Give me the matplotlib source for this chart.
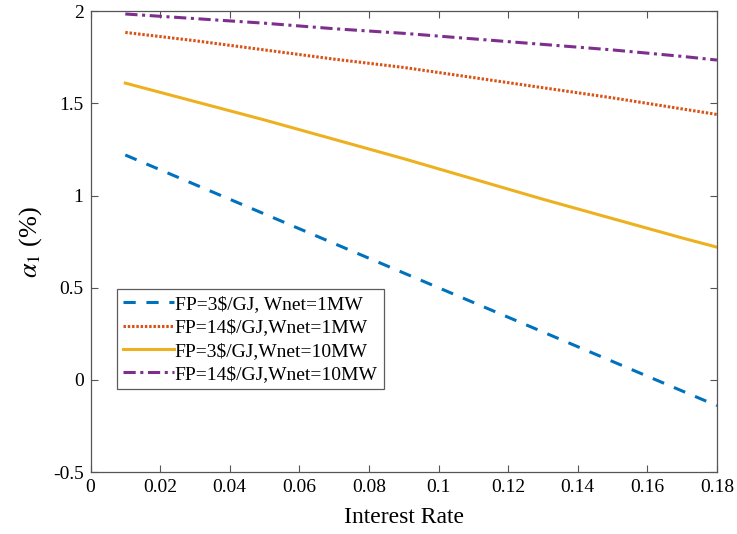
import matplotlib
matplotlib.use("Agg")
import matplotlib.pyplot as plt

plt.rcParams['font.family'] = ['Liberation Serif', 'DejaVu Serif']
plt.rcParams['mathtext.fontset'] = 'stix'

# Data
rate = [0.01, 0.03, 0.05, 0.07, 0.09, 0.11, 0.13, 0.15, 0.17, 0.18]
fp3_1mw = [1.22, 1.06, 0.90, 0.74, 0.58, 0.42, 0.26, 0.10, -0.06, -0.14]
fp14_1mw = [1.885, 1.84, 1.79, 1.74, 1.695, 1.64, 1.585, 1.53, 1.47, 1.44]
fp3_10mw = [1.61, 1.51, 1.41, 1.305, 1.20, 1.09, 0.98, 0.875, 0.77, 0.72]
fp14_10mw = [1.985, 1.96, 1.935, 1.905, 1.88, 1.85, 1.82, 1.79, 1.755, 1.735]

labels = ["FP=3$/GJ, Wnet=1MW", "FP=14$/GJ,Wnet=1MW",
          "FP=3$/GJ,Wnet=10MW", "FP=14$/GJ,Wnet=10MW"]
labels = [s.replace("$", r"\$") for s in labels]

xticks = [0, 0.02, 0.04, 0.06, 0.08, 0.1, 0.12, 0.14, 0.16, 0.18]
xticklabels = ["0", "0.02", "0.04", "0.06", "0.08", "0.1", "0.12", "0.14", "0.16", "0.18"]
yticks = [-0.5, 0, 0.5, 1, 1.5, 2]
yticklabels = ["-0.5", "0", "0.5", "1", "1.5", "2"]

fig = plt.figure(figsize=(7.37, 5.34), dpi=100)
ax = fig.add_axes([0.1228, 0.116, 0.850, 0.863])

ax.plot(rate, fp3_1mw, '--', color='#0072BD', lw=2.2, dashes=(4, 3.5), label=labels[0])
ax.plot(rate, fp14_1mw, ':', color='#D95319', lw=2.2, dashes=(0.8, 0.6), label=labels[1])
ax.plot(rate, fp3_10mw, '-', color='#EDB120', lw=2.2, label=labels[2])
ax.plot(rate, fp14_10mw, '-.', color='#7E2F8E', lw=2.2, dashes=(4, 1.5, 1, 1.5), label=labels[3])

ax.set_xlim(0, 0.18)
ax.set_ylim(-0.5, 2)
ax.set_xticks(xticks)
ax.set_xticklabels(xticklabels)
ax.set_yticks(yticks)
ax.set_yticklabels(yticklabels)
ax.tick_params(direction='in', top=True, right=True, labelsize=14,
               length=5, color='#555555', width=0.8, pad=5)
for sp in ax.spines.values():
    sp.set_color('#555555')
    sp.set_linewidth(0.9)

ax.set_xlabel("Interest Rate", fontsize=17, labelpad=8)
ax.set_ylabel(r"$\alpha_{1}$ (%)", fontsize=19, labelpad=6)

leg = ax.legend(loc='lower left', bbox_to_anchor=(0.043, 0.18), fontsize=14,
                frameon=True, fancybox=False, edgecolor='#333333',
                handlelength=2.6, handletextpad=0.05, borderpad=0.3,
                labelspacing=0.3, borderaxespad=0)
leg.get_frame().set_linewidth(0.9)

fig.savefig("out.png", dpi=100)
